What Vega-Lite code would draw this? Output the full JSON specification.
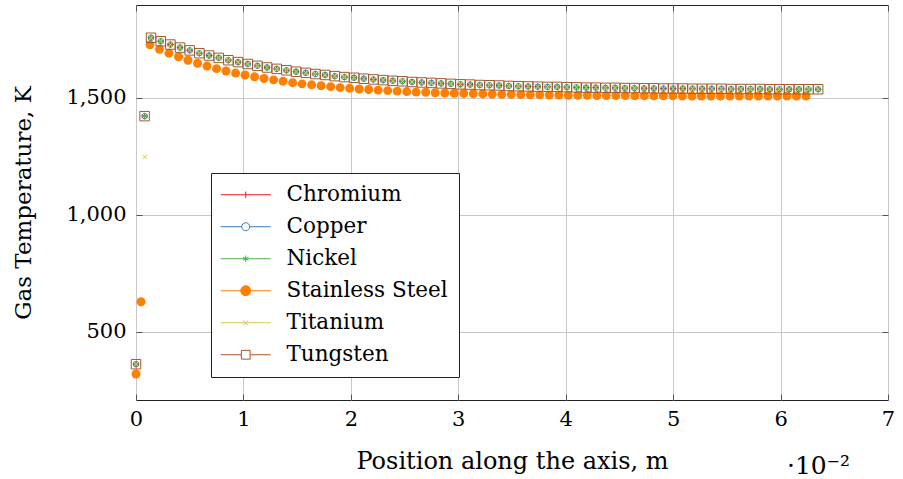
{
  "$schema": "https://vega.github.io/schema/vega-lite/v6.json",
  "width": 752,
  "height": 395,
  "autosize": "none",
  "padding": {"left": 136, "top": 5, "right": 15, "bottom": 79},
  "background": "#ffffff",
  "config": {
    "view": {"stroke": "#222222", "strokeWidth": 1},
    "font": "DejaVu Serif"
  },
  "title": {"text": "·10⁻²", "orient": "bottom", "anchor": "end", "frame": "group", "font": "DejaVu Serif", "fontSize": 25, "fontWeight": "normal", "color": "#000000", "dx": -38, "offset": -19},
  "datasets": {
    "steel": [
      {"m":"Stainless Steel","x":0,"T":320},{"m":"Stainless Steel","x":0.047,"T":629},
      {"m":"Stainless Steel","x":0.13,"T":1727},{"m":"Stainless Steel","x":0.219,"T":1708},{"m":"Stainless Steel","x":0.307,"T":1691},{"m":"Stainless Steel","x":0.396,"T":1676},{"m":"Stainless Steel","x":0.484,"T":1661},{"m":"Stainless Steel","x":0.573,"T":1648},{"m":"Stainless Steel","x":0.661,"T":1636},{"m":"Stainless Steel","x":0.75,"T":1625},{"m":"Stainless Steel","x":0.838,"T":1615},{"m":"Stainless Steel","x":0.927,"T":1606},
      {"m":"Stainless Steel","x":1.015,"T":1598},{"m":"Stainless Steel","x":1.104,"T":1590},{"m":"Stainless Steel","x":1.192,"T":1583},{"m":"Stainless Steel","x":1.281,"T":1577},{"m":"Stainless Steel","x":1.369,"T":1571},{"m":"Stainless Steel","x":1.458,"T":1565},{"m":"Stainless Steel","x":1.546,"T":1560},{"m":"Stainless Steel","x":1.635,"T":1556},{"m":"Stainless Steel","x":1.723,"T":1552},{"m":"Stainless Steel","x":1.812,"T":1548},
      {"m":"Stainless Steel","x":1.9,"T":1544},{"m":"Stainless Steel","x":1.989,"T":1541},{"m":"Stainless Steel","x":2.077,"T":1538},{"m":"Stainless Steel","x":2.166,"T":1536},{"m":"Stainless Steel","x":2.254,"T":1533},{"m":"Stainless Steel","x":2.343,"T":1531},{"m":"Stainless Steel","x":2.431,"T":1529},{"m":"Stainless Steel","x":2.52,"T":1527},{"m":"Stainless Steel","x":2.608,"T":1525},{"m":"Stainless Steel","x":2.697,"T":1524},
      {"m":"Stainless Steel","x":2.785,"T":1522},{"m":"Stainless Steel","x":2.874,"T":1521},{"m":"Stainless Steel","x":2.962,"T":1520},{"m":"Stainless Steel","x":3.051,"T":1519},{"m":"Stainless Steel","x":3.139,"T":1518},{"m":"Stainless Steel","x":3.228,"T":1517},{"m":"Stainless Steel","x":3.316,"T":1516},{"m":"Stainless Steel","x":3.405,"T":1515},{"m":"Stainless Steel","x":3.493,"T":1515},{"m":"Stainless Steel","x":3.582,"T":1514},
      {"m":"Stainless Steel","x":3.67,"T":1513},{"m":"Stainless Steel","x":3.759,"T":1513},{"m":"Stainless Steel","x":3.847,"T":1512},{"m":"Stainless Steel","x":3.936,"T":1512},{"m":"Stainless Steel","x":4.024,"T":1511},{"m":"Stainless Steel","x":4.113,"T":1511},{"m":"Stainless Steel","x":4.201,"T":1511},{"m":"Stainless Steel","x":4.29,"T":1510},{"m":"Stainless Steel","x":4.378,"T":1510},{"m":"Stainless Steel","x":4.467,"T":1510},
      {"m":"Stainless Steel","x":4.555,"T":1510},{"m":"Stainless Steel","x":4.644,"T":1509},{"m":"Stainless Steel","x":4.732,"T":1509},{"m":"Stainless Steel","x":4.821,"T":1509},{"m":"Stainless Steel","x":4.909,"T":1509},{"m":"Stainless Steel","x":4.998,"T":1509},{"m":"Stainless Steel","x":5.086,"T":1508},{"m":"Stainless Steel","x":5.175,"T":1508},{"m":"Stainless Steel","x":5.263,"T":1508},{"m":"Stainless Steel","x":5.352,"T":1508},
      {"m":"Stainless Steel","x":5.44,"T":1508},{"m":"Stainless Steel","x":5.529,"T":1508},{"m":"Stainless Steel","x":5.617,"T":1508},{"m":"Stainless Steel","x":5.706,"T":1508},{"m":"Stainless Steel","x":5.794,"T":1508},{"m":"Stainless Steel","x":5.883,"T":1508},{"m":"Stainless Steel","x":5.971,"T":1508},{"m":"Stainless Steel","x":6.06,"T":1508},{"m":"Stainless Steel","x":6.148,"T":1508},{"m":"Stainless Steel","x":6.237,"T":1508}
    ],
    "others": [
      {"m":"Chromium","x":0,"T":362},{"m":"Chromium","x":0.08,"T":1422},
      {"m":"Chromium","x":0.14,"T":1757},{"m":"Chromium","x":0.23,"T":1742},{"m":"Chromium","x":0.32,"T":1728},{"m":"Chromium","x":0.41,"T":1715},{"m":"Chromium","x":0.5,"T":1703},{"m":"Chromium","x":0.59,"T":1691},{"m":"Chromium","x":0.68,"T":1681},{"m":"Chromium","x":0.77,"T":1671},{"m":"Chromium","x":0.86,"T":1661},{"m":"Chromium","x":0.95,"T":1653},
      {"m":"Chromium","x":1.04,"T":1645},{"m":"Chromium","x":1.13,"T":1637},{"m":"Chromium","x":1.22,"T":1630},{"m":"Chromium","x":1.31,"T":1624},{"m":"Chromium","x":1.4,"T":1618},{"m":"Chromium","x":1.49,"T":1612},{"m":"Chromium","x":1.58,"T":1607},{"m":"Chromium","x":1.67,"T":1602},{"m":"Chromium","x":1.76,"T":1598},{"m":"Chromium","x":1.85,"T":1593},
      {"m":"Chromium","x":1.94,"T":1589},{"m":"Chromium","x":2.03,"T":1586},{"m":"Chromium","x":2.12,"T":1582},{"m":"Chromium","x":2.21,"T":1579},{"m":"Chromium","x":2.3,"T":1576},{"m":"Chromium","x":2.39,"T":1573},{"m":"Chromium","x":2.48,"T":1571},{"m":"Chromium","x":2.57,"T":1568},{"m":"Chromium","x":2.66,"T":1566},{"m":"Chromium","x":2.75,"T":1564},
      {"m":"Chromium","x":2.84,"T":1562},{"m":"Chromium","x":2.93,"T":1560},{"m":"Chromium","x":3.02,"T":1558},{"m":"Chromium","x":3.11,"T":1557},{"m":"Chromium","x":3.2,"T":1555},{"m":"Chromium","x":3.29,"T":1554},{"m":"Chromium","x":3.38,"T":1553},{"m":"Chromium","x":3.47,"T":1551},{"m":"Chromium","x":3.56,"T":1550},{"m":"Chromium","x":3.65,"T":1549},
      {"m":"Chromium","x":3.74,"T":1548},{"m":"Chromium","x":3.83,"T":1547},{"m":"Chromium","x":3.92,"T":1547},{"m":"Chromium","x":4.01,"T":1546},{"m":"Chromium","x":4.1,"T":1545},{"m":"Chromium","x":4.19,"T":1544},{"m":"Chromium","x":4.28,"T":1544},{"m":"Chromium","x":4.37,"T":1543},{"m":"Chromium","x":4.46,"T":1543},{"m":"Chromium","x":4.55,"T":1542},
      {"m":"Chromium","x":4.64,"T":1542},{"m":"Chromium","x":4.73,"T":1541},{"m":"Chromium","x":4.82,"T":1541},{"m":"Chromium","x":4.91,"T":1540},{"m":"Chromium","x":5,"T":1540},{"m":"Chromium","x":5.09,"T":1540},{"m":"Chromium","x":5.18,"T":1539},{"m":"Chromium","x":5.27,"T":1539},{"m":"Chromium","x":5.36,"T":1539},{"m":"Chromium","x":5.45,"T":1539},
      {"m":"Chromium","x":5.54,"T":1538},{"m":"Chromium","x":5.63,"T":1538},{"m":"Chromium","x":5.72,"T":1538},{"m":"Chromium","x":5.81,"T":1538},{"m":"Chromium","x":5.9,"T":1537},{"m":"Chromium","x":5.99,"T":1537},{"m":"Chromium","x":6.08,"T":1537},{"m":"Chromium","x":6.17,"T":1537},{"m":"Chromium","x":6.26,"T":1537},{"m":"Chromium","x":6.35,"T":1537},

      {"m":"Copper","x":0,"T":362},{"m":"Copper","x":0.08,"T":1422},
      {"m":"Copper","x":0.14,"T":1757},{"m":"Copper","x":0.23,"T":1742},{"m":"Copper","x":0.32,"T":1728},{"m":"Copper","x":0.41,"T":1715},{"m":"Copper","x":0.5,"T":1703},{"m":"Copper","x":0.59,"T":1691},{"m":"Copper","x":0.68,"T":1681},{"m":"Copper","x":0.77,"T":1671},{"m":"Copper","x":0.86,"T":1661},{"m":"Copper","x":0.95,"T":1653},
      {"m":"Copper","x":1.04,"T":1645},{"m":"Copper","x":1.13,"T":1637},{"m":"Copper","x":1.22,"T":1630},{"m":"Copper","x":1.31,"T":1624},{"m":"Copper","x":1.4,"T":1618},{"m":"Copper","x":1.49,"T":1612},{"m":"Copper","x":1.58,"T":1607},{"m":"Copper","x":1.67,"T":1602},{"m":"Copper","x":1.76,"T":1598},{"m":"Copper","x":1.85,"T":1593},
      {"m":"Copper","x":1.94,"T":1589},{"m":"Copper","x":2.03,"T":1586},{"m":"Copper","x":2.12,"T":1582},{"m":"Copper","x":2.21,"T":1579},{"m":"Copper","x":2.3,"T":1576},{"m":"Copper","x":2.39,"T":1573},{"m":"Copper","x":2.48,"T":1571},{"m":"Copper","x":2.57,"T":1568},{"m":"Copper","x":2.66,"T":1566},{"m":"Copper","x":2.75,"T":1564},
      {"m":"Copper","x":2.84,"T":1562},{"m":"Copper","x":2.93,"T":1560},{"m":"Copper","x":3.02,"T":1558},{"m":"Copper","x":3.11,"T":1557},{"m":"Copper","x":3.2,"T":1555},{"m":"Copper","x":3.29,"T":1554},{"m":"Copper","x":3.38,"T":1553},{"m":"Copper","x":3.47,"T":1551},{"m":"Copper","x":3.56,"T":1550},{"m":"Copper","x":3.65,"T":1549},
      {"m":"Copper","x":3.74,"T":1548},{"m":"Copper","x":3.83,"T":1547},{"m":"Copper","x":3.92,"T":1547},{"m":"Copper","x":4.01,"T":1546},{"m":"Copper","x":4.1,"T":1545},{"m":"Copper","x":4.19,"T":1544},{"m":"Copper","x":4.28,"T":1544},{"m":"Copper","x":4.37,"T":1543},{"m":"Copper","x":4.46,"T":1543},{"m":"Copper","x":4.55,"T":1542},
      {"m":"Copper","x":4.64,"T":1542},{"m":"Copper","x":4.73,"T":1541},{"m":"Copper","x":4.82,"T":1541},{"m":"Copper","x":4.91,"T":1540},{"m":"Copper","x":5,"T":1540},{"m":"Copper","x":5.09,"T":1540},{"m":"Copper","x":5.18,"T":1539},{"m":"Copper","x":5.27,"T":1539},{"m":"Copper","x":5.36,"T":1539},{"m":"Copper","x":5.45,"T":1539},
      {"m":"Copper","x":5.54,"T":1538},{"m":"Copper","x":5.63,"T":1538},{"m":"Copper","x":5.72,"T":1538},{"m":"Copper","x":5.81,"T":1538},{"m":"Copper","x":5.9,"T":1537},{"m":"Copper","x":5.99,"T":1537},{"m":"Copper","x":6.08,"T":1537},{"m":"Copper","x":6.17,"T":1537},{"m":"Copper","x":6.26,"T":1537},{"m":"Copper","x":6.35,"T":1537},

      {"m":"Nickel","x":0,"T":362},{"m":"Nickel","x":0.08,"T":1422},
      {"m":"Nickel","x":0.14,"T":1757},{"m":"Nickel","x":0.23,"T":1742},{"m":"Nickel","x":0.32,"T":1728},{"m":"Nickel","x":0.41,"T":1715},{"m":"Nickel","x":0.5,"T":1703},{"m":"Nickel","x":0.59,"T":1691},{"m":"Nickel","x":0.68,"T":1681},{"m":"Nickel","x":0.77,"T":1671},{"m":"Nickel","x":0.86,"T":1661},{"m":"Nickel","x":0.95,"T":1653},
      {"m":"Nickel","x":1.04,"T":1645},{"m":"Nickel","x":1.13,"T":1637},{"m":"Nickel","x":1.22,"T":1630},{"m":"Nickel","x":1.31,"T":1624},{"m":"Nickel","x":1.4,"T":1618},{"m":"Nickel","x":1.49,"T":1612},{"m":"Nickel","x":1.58,"T":1607},{"m":"Nickel","x":1.67,"T":1602},{"m":"Nickel","x":1.76,"T":1598},{"m":"Nickel","x":1.85,"T":1593},
      {"m":"Nickel","x":1.94,"T":1589},{"m":"Nickel","x":2.03,"T":1586},{"m":"Nickel","x":2.12,"T":1582},{"m":"Nickel","x":2.21,"T":1579},{"m":"Nickel","x":2.3,"T":1576},{"m":"Nickel","x":2.39,"T":1573},{"m":"Nickel","x":2.48,"T":1571},{"m":"Nickel","x":2.57,"T":1568},{"m":"Nickel","x":2.66,"T":1566},{"m":"Nickel","x":2.75,"T":1564},
      {"m":"Nickel","x":2.84,"T":1562},{"m":"Nickel","x":2.93,"T":1560},{"m":"Nickel","x":3.02,"T":1558},{"m":"Nickel","x":3.11,"T":1557},{"m":"Nickel","x":3.2,"T":1555},{"m":"Nickel","x":3.29,"T":1554},{"m":"Nickel","x":3.38,"T":1553},{"m":"Nickel","x":3.47,"T":1551},{"m":"Nickel","x":3.56,"T":1550},{"m":"Nickel","x":3.65,"T":1549},
      {"m":"Nickel","x":3.74,"T":1548},{"m":"Nickel","x":3.83,"T":1547},{"m":"Nickel","x":3.92,"T":1547},{"m":"Nickel","x":4.01,"T":1546},{"m":"Nickel","x":4.1,"T":1545},{"m":"Nickel","x":4.19,"T":1544},{"m":"Nickel","x":4.28,"T":1544},{"m":"Nickel","x":4.37,"T":1543},{"m":"Nickel","x":4.46,"T":1543},{"m":"Nickel","x":4.55,"T":1542},
      {"m":"Nickel","x":4.64,"T":1542},{"m":"Nickel","x":4.73,"T":1541},{"m":"Nickel","x":4.82,"T":1541},{"m":"Nickel","x":4.91,"T":1540},{"m":"Nickel","x":5,"T":1540},{"m":"Nickel","x":5.09,"T":1540},{"m":"Nickel","x":5.18,"T":1539},{"m":"Nickel","x":5.27,"T":1539},{"m":"Nickel","x":5.36,"T":1539},{"m":"Nickel","x":5.45,"T":1539},
      {"m":"Nickel","x":5.54,"T":1538},{"m":"Nickel","x":5.63,"T":1538},{"m":"Nickel","x":5.72,"T":1538},{"m":"Nickel","x":5.81,"T":1538},{"m":"Nickel","x":5.9,"T":1537},{"m":"Nickel","x":5.99,"T":1537},{"m":"Nickel","x":6.08,"T":1537},{"m":"Nickel","x":6.17,"T":1537},{"m":"Nickel","x":6.26,"T":1537},{"m":"Nickel","x":6.35,"T":1537},

      {"m":"Titanium","x":0,"T":362},{"m":"Titanium","x":0.08,"T":1248},
      {"m":"Titanium","x":0.14,"T":1757},{"m":"Titanium","x":0.23,"T":1742},{"m":"Titanium","x":0.32,"T":1728},{"m":"Titanium","x":0.41,"T":1715},{"m":"Titanium","x":0.5,"T":1703},{"m":"Titanium","x":0.59,"T":1691},{"m":"Titanium","x":0.68,"T":1681},{"m":"Titanium","x":0.77,"T":1671},{"m":"Titanium","x":0.86,"T":1661},{"m":"Titanium","x":0.95,"T":1653},
      {"m":"Titanium","x":1.04,"T":1645},{"m":"Titanium","x":1.13,"T":1637},{"m":"Titanium","x":1.22,"T":1630},{"m":"Titanium","x":1.31,"T":1624},{"m":"Titanium","x":1.4,"T":1618},{"m":"Titanium","x":1.49,"T":1612},{"m":"Titanium","x":1.58,"T":1607},{"m":"Titanium","x":1.67,"T":1602},{"m":"Titanium","x":1.76,"T":1598},{"m":"Titanium","x":1.85,"T":1593},
      {"m":"Titanium","x":1.94,"T":1589},{"m":"Titanium","x":2.03,"T":1586},{"m":"Titanium","x":2.12,"T":1582},{"m":"Titanium","x":2.21,"T":1579},{"m":"Titanium","x":2.3,"T":1576},{"m":"Titanium","x":2.39,"T":1573},{"m":"Titanium","x":2.48,"T":1571},{"m":"Titanium","x":2.57,"T":1568},{"m":"Titanium","x":2.66,"T":1566},{"m":"Titanium","x":2.75,"T":1564},
      {"m":"Titanium","x":2.84,"T":1562},{"m":"Titanium","x":2.93,"T":1560},{"m":"Titanium","x":3.02,"T":1558},{"m":"Titanium","x":3.11,"T":1557},{"m":"Titanium","x":3.2,"T":1555},{"m":"Titanium","x":3.29,"T":1554},{"m":"Titanium","x":3.38,"T":1553},{"m":"Titanium","x":3.47,"T":1551},{"m":"Titanium","x":3.56,"T":1550},{"m":"Titanium","x":3.65,"T":1549},
      {"m":"Titanium","x":3.74,"T":1548},{"m":"Titanium","x":3.83,"T":1547},{"m":"Titanium","x":3.92,"T":1547},{"m":"Titanium","x":4.01,"T":1546},{"m":"Titanium","x":4.1,"T":1545},{"m":"Titanium","x":4.19,"T":1544},{"m":"Titanium","x":4.28,"T":1544},{"m":"Titanium","x":4.37,"T":1543},{"m":"Titanium","x":4.46,"T":1543},{"m":"Titanium","x":4.55,"T":1542},
      {"m":"Titanium","x":4.64,"T":1542},{"m":"Titanium","x":4.73,"T":1541},{"m":"Titanium","x":4.82,"T":1541},{"m":"Titanium","x":4.91,"T":1540},{"m":"Titanium","x":5,"T":1540},{"m":"Titanium","x":5.09,"T":1540},{"m":"Titanium","x":5.18,"T":1539},{"m":"Titanium","x":5.27,"T":1539},{"m":"Titanium","x":5.36,"T":1539},{"m":"Titanium","x":5.45,"T":1539},
      {"m":"Titanium","x":5.54,"T":1538},{"m":"Titanium","x":5.63,"T":1538},{"m":"Titanium","x":5.72,"T":1538},{"m":"Titanium","x":5.81,"T":1538},{"m":"Titanium","x":5.9,"T":1537},{"m":"Titanium","x":5.99,"T":1537},{"m":"Titanium","x":6.08,"T":1537},{"m":"Titanium","x":6.17,"T":1537},{"m":"Titanium","x":6.26,"T":1537},{"m":"Titanium","x":6.35,"T":1537},

      {"m":"Tungsten","x":0,"T":362},{"m":"Tungsten","x":0.08,"T":1422},
      {"m":"Tungsten","x":0.14,"T":1757},{"m":"Tungsten","x":0.23,"T":1742},{"m":"Tungsten","x":0.32,"T":1728},{"m":"Tungsten","x":0.41,"T":1715},{"m":"Tungsten","x":0.5,"T":1703},{"m":"Tungsten","x":0.59,"T":1691},{"m":"Tungsten","x":0.68,"T":1681},{"m":"Tungsten","x":0.77,"T":1671},{"m":"Tungsten","x":0.86,"T":1661},{"m":"Tungsten","x":0.95,"T":1653},
      {"m":"Tungsten","x":1.04,"T":1645},{"m":"Tungsten","x":1.13,"T":1637},{"m":"Tungsten","x":1.22,"T":1630},{"m":"Tungsten","x":1.31,"T":1624},{"m":"Tungsten","x":1.4,"T":1618},{"m":"Tungsten","x":1.49,"T":1612},{"m":"Tungsten","x":1.58,"T":1607},{"m":"Tungsten","x":1.67,"T":1602},{"m":"Tungsten","x":1.76,"T":1598},{"m":"Tungsten","x":1.85,"T":1593},
      {"m":"Tungsten","x":1.94,"T":1589},{"m":"Tungsten","x":2.03,"T":1586},{"m":"Tungsten","x":2.12,"T":1582},{"m":"Tungsten","x":2.21,"T":1579},{"m":"Tungsten","x":2.3,"T":1576},{"m":"Tungsten","x":2.39,"T":1573},{"m":"Tungsten","x":2.48,"T":1571},{"m":"Tungsten","x":2.57,"T":1568},{"m":"Tungsten","x":2.66,"T":1566},{"m":"Tungsten","x":2.75,"T":1564},
      {"m":"Tungsten","x":2.84,"T":1562},{"m":"Tungsten","x":2.93,"T":1560},{"m":"Tungsten","x":3.02,"T":1558},{"m":"Tungsten","x":3.11,"T":1557},{"m":"Tungsten","x":3.2,"T":1555},{"m":"Tungsten","x":3.29,"T":1554},{"m":"Tungsten","x":3.38,"T":1553},{"m":"Tungsten","x":3.47,"T":1551},{"m":"Tungsten","x":3.56,"T":1550},{"m":"Tungsten","x":3.65,"T":1549},
      {"m":"Tungsten","x":3.74,"T":1548},{"m":"Tungsten","x":3.83,"T":1547},{"m":"Tungsten","x":3.92,"T":1547},{"m":"Tungsten","x":4.01,"T":1546},{"m":"Tungsten","x":4.1,"T":1545},{"m":"Tungsten","x":4.19,"T":1544},{"m":"Tungsten","x":4.28,"T":1544},{"m":"Tungsten","x":4.37,"T":1543},{"m":"Tungsten","x":4.46,"T":1543},{"m":"Tungsten","x":4.55,"T":1542},
      {"m":"Tungsten","x":4.64,"T":1542},{"m":"Tungsten","x":4.73,"T":1541},{"m":"Tungsten","x":4.82,"T":1541},{"m":"Tungsten","x":4.91,"T":1540},{"m":"Tungsten","x":5,"T":1540},{"m":"Tungsten","x":5.09,"T":1540},{"m":"Tungsten","x":5.18,"T":1539},{"m":"Tungsten","x":5.27,"T":1539},{"m":"Tungsten","x":5.36,"T":1539},{"m":"Tungsten","x":5.45,"T":1539},
      {"m":"Tungsten","x":5.54,"T":1538},{"m":"Tungsten","x":5.63,"T":1538},{"m":"Tungsten","x":5.72,"T":1538},{"m":"Tungsten","x":5.81,"T":1538},{"m":"Tungsten","x":5.9,"T":1537},{"m":"Tungsten","x":5.99,"T":1537},{"m":"Tungsten","x":6.08,"T":1537},{"m":"Tungsten","x":6.17,"T":1537},{"m":"Tungsten","x":6.26,"T":1537},{"m":"Tungsten","x":6.35,"T":1537}
    ]
  },
  "layer": [
    {
      "data": {"name": "steel"},
      "mark": {"type": "point", "filled": true, "shape": "circle", "size": 80, "opacity": 1, "clip": false},
      "encoding": {
        "x": {"field": "x", "type": "quantitative",
          "scale": {"domain": [0, 7], "nice": false, "zero": false},
          "axis": {"orient": "bottom", "values": [0,1,2,3,4,5,6,7], "format": "d", "grid": true, "gridColor": "#c8c8c8", "gridWidth": 1,
            "domain": false, "ticks": true, "tickSize": -6, "tickColor": "#555555",
            "labelFont": "DejaVu Serif", "labelFontSize": 21, "labelColor": "#000000", "labelPadding": 14, "labelFlush": false, "labelOverlap": false,
            "title": "Position along the axis, m", "titleFont": "DejaVu Serif", "titleFontSize": 24, "titleFontWeight": "normal", "titleColor": "#000000", "titlePadding": 20}},
        "y": {"field": "T", "type": "quantitative",
          "scale": {"domain": [209, 1897], "nice": false, "zero": false},
          "axis": {"orient": "left", "values": [500, 1000, 1500], "format": ",d", "grid": true, "gridColor": "#c8c8c8", "gridWidth": 1,
            "domain": false, "ticks": true, "tickSize": -6, "tickColor": "#555555",
            "labelFont": "DejaVu Serif", "labelFontSize": 21, "labelColor": "#000000", "labelPadding": 16, "labelFlush": false, "labelOverlap": false,
            "title": "Gas Temperature, K", "titleFont": "DejaVu Serif", "titleFontSize": 23, "titleFontWeight": "normal", "titleColor": "#000000", "titlePadding": 30}},
        "color": {"field": "m", "type": "nominal", "legend": null,
          "scale": {"domain": ["Chromium", "Copper", "Nickel", "Stainless Steel", "Titanium", "Tungsten"],
                    "range": ["#e41a1c", "#377eb8", "#4daf4a", "#ff7f00", "#d8c74e", "#a65628"]}}
      }
    },
    {
      "data": {"name": "others"},
      "mark": {"type": "point", "filled": false, "opacity": 1, "strokeWidth": 1, "clip": false},
      "encoding": {
        "x": {"field": "x", "type": "quantitative",
          "axis": {"orient": "top", "values": [0,1,2,3,4,5,6,7], "labels": false, "grid": false, "domain": false, "ticks": true, "tickSize": -6, "tickColor": "#555555", "title": null}},
        "y": {"field": "T", "type": "quantitative",
          "axis": {"orient": "right", "values": [500, 1000, 1500], "labels": false, "grid": false, "domain": false, "ticks": true, "tickSize": -6, "tickColor": "#555555", "title": null}},
        "color": {"field": "m", "type": "nominal", "legend": null,
          "scale": {"domain": ["Chromium", "Copper", "Nickel", "Stainless Steel", "Titanium", "Tungsten"],
                    "range": ["#e41a1c", "#377eb8", "#4daf4a", "#ff7f00", "#d8c74e", "#a65628"]}},
        "shape": {"field": "m", "type": "nominal", "legend": null,
          "scale": {"domain": ["Chromium", "Copper", "Nickel", "Titanium", "Tungsten"],
                    "range": ["M-1,0H1M0,-1V1", "circle", "M0,-1V1M-0.87,-0.5L0.87,0.5M-0.87,0.5L0.87,-0.5", "M-0.75,-0.75L0.75,0.75M-0.75,0.75L0.75,-0.75", "square"]}},
        "size": {"field": "m", "type": "nominal", "legend": null,
          "scale": {"type": "ordinal", "domain": ["Chromium", "Copper", "Nickel", "Titanium", "Tungsten"], "range": [40, 30, 40, 36, 90]}}
      }
    },
    {
      "data": {"name": "steel"},
      "mark": {"type": "point", "filled": false, "opacity": 0, "strokeWidth": 1},
      "encoding": {
        "stroke": {"field": "m", "type": "nominal",
          "scale": {"domain": ["Chromium", "Copper", "Nickel", "Stainless Steel", "Titanium", "Tungsten"],
                    "range": ["#e41a1c", "#377eb8", "#4daf4a", "#ff7f00", "#d8c74e", "#a65628"]},
          "legend": {"title": null, "orient": "none", "legendX": 75, "legendY": 168, "fillColor": "#ffffff", "strokeColor": "#222222", "padding": 11, "cornerRadius": 0,
            "labelFont": "DejaVu Serif", "labelFontSize": 21.5, "labelColor": "#000000", "labelLimit": 0,
            "symbolSize": 64, "symbolStrokeWidth": 1, "symbolOpacity": 1, "symbolOffset": 13, "labelOffset": 30, "rowPadding": 9}},
        "fill": {"field": "m", "type": "nominal",
          "scale": {"domain": ["Chromium", "Copper", "Nickel", "Stainless Steel", "Titanium", "Tungsten"],
                    "range": ["transparent", "transparent", "transparent", "#ff7f00", "transparent", "transparent"]},
          "legend": {"title": null, "orient": "none", "legendX": 75, "legendY": 168, "fillColor": "#ffffff", "strokeColor": "#222222", "padding": 11, "cornerRadius": 0,
            "labelFont": "DejaVu Serif", "labelFontSize": 21.5, "labelColor": "#000000", "labelLimit": 0,
            "symbolSize": 64, "symbolStrokeWidth": 1, "symbolOpacity": 1, "symbolOffset": 13, "labelOffset": 30, "rowPadding": 9}},
        "shape": {"field": "m", "type": "nominal",
          "scale": {"domain": ["Chromium", "Copper", "Nickel", "Stainless Steel", "Titanium", "Tungsten"],
                    "range": [
                      "M-6.25,0H6.25M0,-0.8V0.8",
                      "M-6.25,0H-1M1,0H6.25M1,0A1,1 0 1,1 -1,0A1,1 0 1,1 1,0",
                      "M-6.25,0H6.25M0,-0.8V0.8M-0.7,-0.4L0.7,0.4M-0.7,0.4L0.7,-0.4",
                      "M-6.25,0H6.25M1.25,0A1.25,1.25 0 1,1 -1.25,0A1.25,1.25 0 1,1 1.25,0",
                      "M-6.25,0H6.25M-0.6,-0.6L0.6,0.6M-0.6,0.6L0.6,-0.6",
                      "M-6.25,0H-1.1M1.1,0H6.25M-1.1,-1.1H1.1V1.1H-1.1Z"]},
          "legend": {"title": null, "orient": "none", "legendX": 75, "legendY": 168, "fillColor": "#ffffff", "strokeColor": "#222222", "padding": 11, "cornerRadius": 0,
            "labelFont": "DejaVu Serif", "labelFontSize": 21.5, "labelColor": "#000000", "labelLimit": 0,
            "symbolSize": 64, "symbolStrokeWidth": 1, "symbolOpacity": 1, "symbolOffset": 13, "labelOffset": 30, "rowPadding": 9}}
      }
    }
  ],
  "resolve": {
    "axis": {"x": "independent", "y": "independent"},
    "scale": {"color": "independent", "shape": "independent", "size": "independent", "stroke": "independent", "fill": "independent"}
  }
}
